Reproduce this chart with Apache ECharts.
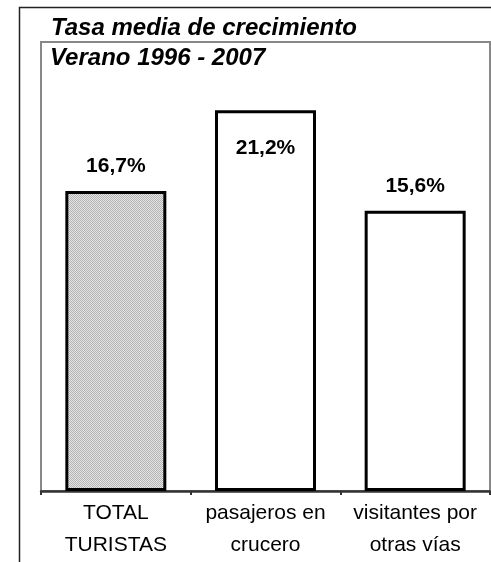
<!DOCTYPE html>
<html>
<head>
<meta charset="utf-8">
<script src="https://cdn.jsdelivr.net/npm/echarts@6/dist/echarts.min.js"></script>
<style>
html,body{margin:0;padding:0;background:#fff;}
#chart{width:491px;height:562px;}
</style>
</head>
<body>
<div id="chart"></div>
<script>
const titleText = 'Tasa media de crecimiento';
const subtitleText = 'Verano 1996 - 2007';
const categories = ['TOTAL\nTURISTAS', 'pasajeros en\ncrucero', 'visitantes por\notras vías'];
const values = [16.7, 21.2, 15.6];
const labelPositions = ['top', 'insideTop', 'top'];

function makePattern() {
  const c = document.createElement('canvas');
  c.width = 2; c.height = 2;
  const g = c.getContext('2d');
  g.fillStyle = '#e4e4e4'; g.fillRect(0, 0, 2, 2);
  g.fillStyle = '#b4b4b4'; g.fillRect(0, 0, 1, 1); g.fillRect(1, 1, 1, 1);
  return c;
}
const pattern = { image: makePattern(), repeat: 'repeat' };

const FONT = '"Liberation Sans", Arial, sans-serif';
const chart = echarts.init(document.getElementById('chart'), null, { renderer: 'canvas' });
chart.setOption({
  animation: false,
  backgroundColor: '#fff',
  title: [
    { text: titleText, left: 46, top: 11, textStyle: { fontFamily: FONT, fontSize: 24, fontWeight: 'bold', fontStyle: 'italic', color: '#000' } },
    { text: subtitleText, left: 45, top: 41, textStyle: { fontFamily: FONT, fontSize: 24, fontWeight: 'bold', fontStyle: 'italic', color: '#000' } }
  ],
  graphic: [
    { type: 'rect', shape: { x: 19.5, y: 7.5, width: 600, height: 700 }, style: { fill: 'none', stroke: '#222', lineWidth: 1.5 }, silent: true, z: -1 }
  ],
  grid: { left: 41, top: 42, right: 1, bottom: 71, show: true, borderColor: '#888', borderWidth: 2, backgroundColor: 'transparent' },
  xAxis: {
    type: 'category',
    data: categories,
    axisLine: { lineStyle: { color: '#333', width: 2.5 } },
    axisTick: { show: true, length: 4, lineStyle: { color: '#333', width: 2 } },
    axisLabel: { interval: 0, fontFamily: FONT, fontSize: 21, lineHeight: 32, margin: 6, color: '#000' }
  },
  yAxis: {
    type: 'value', min: 0, max: 25,
    show: false,
    splitLine: { show: false }
  },
  series: [{
    type: 'bar',
    barWidth: 101,
    data: values.map((v, i) => ({
      value: v,
      itemStyle: { color: i === 0 ? pattern : '#fff', borderColor: '#000', borderWidth: 3 },
      label: { position: labelPositions[i], distance: i === 1 ? 27 : 14 }
    })),
    label: {
      show: true,
      fontFamily: FONT, fontSize: 21, fontWeight: 'bold', color: '#000',
      formatter: p => p.value.toFixed(1).replace('.', ',') + '%'
    }
  }]
});
</script>
</body>
</html>
